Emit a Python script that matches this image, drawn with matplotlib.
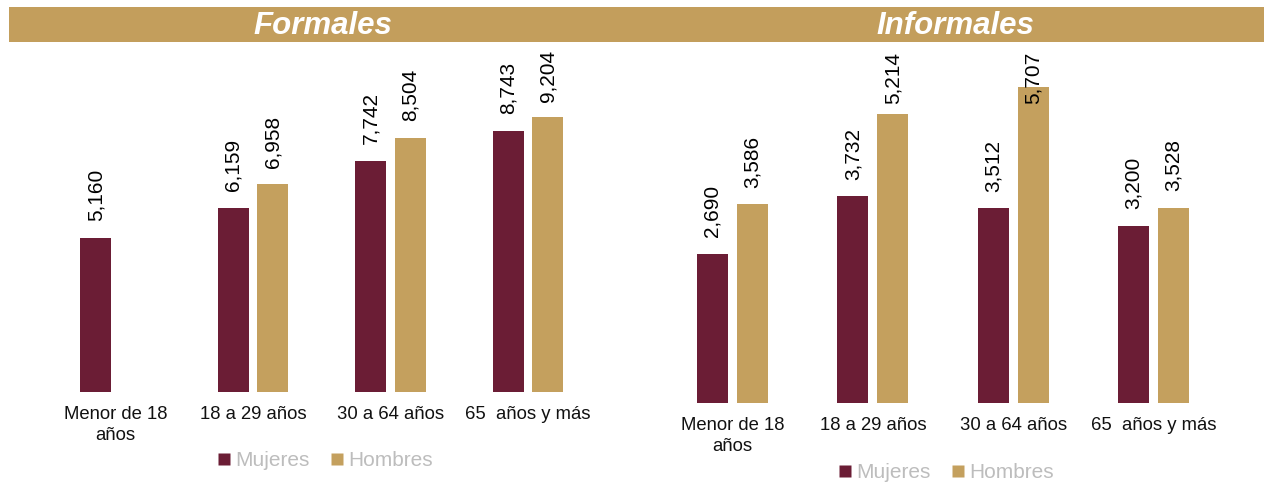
import numpy as np
import matplotlib
matplotlib.use("Agg")
import matplotlib.pyplot as plt
from matplotlib.lines import Line2D
from matplotlib.patches import Rectangle
import matplotlib.transforms as mtransforms

plt.rcParams['font.family'] = ['Liberation Sans', 'DejaVu Sans']

categories_formales = ["Menor de 18\naños", "18 a 29 años", "30 a 64 años", "65  años y más"]
categories_informales = ["Menor de 18\naños", "18 a 29 años", "30 a 64 años", "65  años y más"]
formales_mujeres = [5160, 6159, 7742, 8743]
formales_hombres = [np.nan, 6958, 8504, 9204]
informales_mujeres = [2690, 3732, 3512, 3200]
informales_hombres = [3586, 5214, 5707, 3528]
series_names = ["Mujeres", "Hombres"]
panel_titles = ["Formales", "Informales"]

C_M = "#6B1D35"
C_H = "#C4A05E"
C_BAND = "#C39E5C"
C_LEG = "#BDBDBD"

W, H = 1264, 482
fig = plt.figure(figsize=(W / 100, H / 100), dpi=100)


def px_axes(x0, y_top, x1, y_bot):
    return fig.add_axes([x0 / W, 1 - y_bot / H, (x1 - x0) / W, (y_bot - y_top) / H])


# title bands
for (x0, x1), title in zip([(9, 622), (620, 1264)], panel_titles):
    fig.patches.append(Rectangle((x0 / W, 1 - 42 / H), (x1 - x0) / W, 35 / H,
                                 transform=fig.transFigure, facecolor=C_BAND,
                                 edgecolor='none', zorder=0))
fig.text(323 / W, 1 - 26.5 / H, panel_titles[0], ha='center', va='center',
         color='white', fontsize=22.5, fontweight='bold', fontstyle='italic')
fig.text(955 / W, 1 - 26.5 / H, panel_titles[1], ha='center', va='center',
         color='white', fontsize=22.5, fontweight='bold', fontstyle='italic')

panels = [
    dict(box=(46.75, 50, 596.75, 392), scale=0.02986, cats=categories_formales,
         m=formales_mujeres, h=formales_hombres, width=0.2255, off=0.143,
         leg=(325, 461)),
    dict(box=(662.3, 52, 1223.7, 403), scale=0.0554, cats=categories_informales,
         m=informales_mujeres, h=informales_hombres, width=0.221, off=0.1425,
         leg=(946, 473)),
]

for p in panels:
    x0, yt, x1, yb = p['box']
    ax = px_axes(x0, yt, x1, yb)
    hpx = yb - yt
    ymax = hpx / p['scale']
    ax.set_ylim(0, ymax)
    n = len(p['cats'])
    x = np.arange(n)
    ax.set_xlim(-0.5, n - 0.5)
    for vals, sgn, col in [(p['m'], -1, C_M), (p['h'], 1, C_H)]:
        xs = x + sgn * p['off']
        ax.bar(xs, vals, width=p['width'], color=col, edgecolor='none')
        for xi, v in zip(xs, vals):
            if np.isnan(v):
                continue
            label = f"{int(v):,}"
            top_px = v * p['scale'] + 17 + 52
            if top_px > hpx:
                trans = mtransforms.blended_transform_factory(ax.transData, ax.transAxes)
                ax.text(xi, 1.0, label, rotation=90, ha='center', va='top',
                        fontsize=15, color='black', transform=trans)
            else:
                ax.annotate(label, xy=(xi, v), xytext=(0, 12), textcoords='offset points',
                            rotation=90, ha='center', va='bottom', fontsize=15, color='black')
    ax.set_xticks(x)
    ax.set_xticklabels(p['cats'], fontsize=13.3, color='#111111', linespacing=1.3)
    ax.tick_params(axis='x', length=0, pad=10)
    ax.set_yticks([])
    for s in ax.spines.values():
        s.set_visible(False)
    ax.patch.set_visible(False)

    handles = [Line2D([], [], marker='s', linestyle='none', markersize=8.5,
                      markerfacecolor=c, markeredgecolor='none') for c in (C_M, C_H)]
    lx, ly = p['leg']
    fig.legend(handles, series_names, loc='center', bbox_to_anchor=(lx / W, 1 - ly / H),
               ncol=2, frameon=False, fontsize=15, labelcolor=C_LEG,
               handlelength=0.6, handletextpad=0.25, columnspacing=1.0, borderpad=0)

fig.savefig("out.png", dpi=100)
